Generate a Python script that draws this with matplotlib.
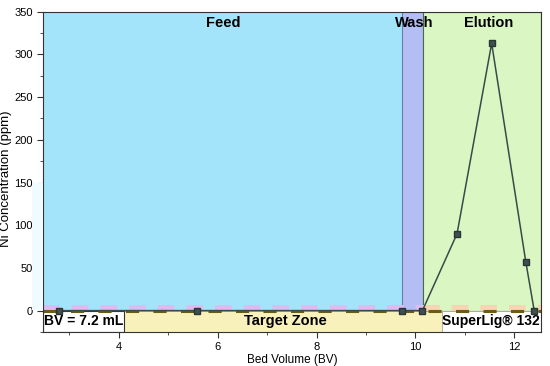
import matplotlib
matplotlib.use("Agg")
import matplotlib.pyplot as plt
from matplotlib.ticker import MultipleLocator
from matplotlib.patches import Rectangle

plt.rcParams['font.family'] = ['Liberation Sans', 'DejaVu Sans']

# Data
bed_volume = [2.79, 5.58, 9.73, 10.14, 10.84, 11.54, 12.23, 12.40]
ni_ppm = [0, 0, 0, 0, 90, 313, 57, 0]

# Zones (BV)
x_min, x_max = 2.48, 12.53
feed_end = 9.72
wash_end = 10.16
target_start, target_end = 4.1, 10.53
y_min, y_max = -25, 350

fig = plt.figure(figsize=(5.5, 3.66), dpi=100)
ax = fig.add_axes([0.079, 0.093, 0.904, 0.875])

# faint strip left of the axis
fig.patches.append(Rectangle((32 / 550, (366 - 310) / 366), 11 / 550, 127 / 366,
                             transform=fig.transFigure, facecolor='#effbfe', lw=0, zorder=0))

yfrac = (0 - y_min) / (y_max - y_min)
# background zones
ax.axvspan(x_min, feed_end, ymin=yfrac, ymax=1, color='#a3e4fb', lw=0, zorder=0)
ax.axvspan(feed_end, wash_end, ymin=yfrac, ymax=1, facecolor='#b5bdf5', edgecolor='#6a7fa0', lw=0.8, zorder=0)
ax.axvspan(wash_end, x_max, ymin=yfrac, ymax=1, facecolor='#daf6c3', edgecolor='#4a6a4a', lw=0.8, zorder=0)

# bottom band
ax.axvspan(target_start, target_end, ymin=0, ymax=yfrac, facecolor='#f8f1bb', edgecolor='#b5ae80', lw=0.6, zorder=0)
ax.axvspan(x_min, target_start, ymin=0, ymax=yfrac, facecolor='white', edgecolor='#333333', lw=0.8, zorder=0)
ax.axvspan(target_end, x_max, ymin=0, ymax=yfrac, facecolor='white', edgecolor='#aaaaaa', lw=0.6, zorder=0)

# faint dashed bands above zero
ax.plot([x_min, wash_end], [3.5, 3.5], color='#dcbcf0', lw=4.3, dashes=(2.8, 2.0), zorder=1, solid_capstyle='butt')
ax.plot([wash_end, x_max], [3.5, 3.5], color='#f6d4b4', lw=4.3, dashes=(2.8, 2.0), zorder=1, solid_capstyle='butt')

# dashed olive zero line
ax.axhline(0, color='#6b5c12', lw=2.2, dashes=(4.3, 4.7), zorder=2)

# main series
ax.plot(bed_volume, ni_ppm, color='#3a4a4a', lw=1.1, marker='s', ms=5,
        mfc='#3f5050', mec='#2a3535', zorder=3)

ax.set_xlim(x_min, x_max)
ax.set_ylim(y_min, y_max)
ax.set_yticks([0, 50, 100, 150, 200, 250, 300, 350])
ax.yaxis.set_minor_locator(MultipleLocator(25))
ax.set_xticks([4, 6, 8, 10, 12])
ax.xaxis.set_minor_locator(MultipleLocator(1))
ax.tick_params(axis='both', which='major', labelsize=8, length=4, width=0.8, direction='out', colors='#333333', labelcolor='black')
ax.tick_params(axis='both', which='minor', length=2.5, width=0.6, direction='out', colors='#333333')
for s in ax.spines.values():
    s.set_color('#333333')
    s.set_linewidth(0.8)

ax.set_xlabel('Bed Volume (BV)', fontsize=8.5, labelpad=1)
ax.set_ylabel('Ni Concentration (ppm)', fontsize=9.5, va='center')
ax.yaxis.set_label_coords(-0.075, 0.478)

# zone labels
ax.text(6.12, 337, 'Feed', fontsize=10.5, fontweight='bold', ha='center', va='center')
ax.text(9.97, 337, 'Wash', fontsize=10.5, fontweight='bold', ha='center', va='center')
ax.text(11.47, 337, 'Elution', fontsize=10.5, fontweight='bold', ha='center', va='center')

ax.text((x_min + target_start) / 2, -12.5, 'BV = 7.2 mL', fontsize=10, fontweight='bold', ha='center', va='center')
ax.text((target_start + target_end) / 2 + 0.05, -12.5, 'Target Zone', fontsize=10.5, fontweight='bold', ha='center', va='center')
ax.text((target_end + x_max) / 2, -12.5, 'SuperLig® 132', fontsize=10, fontweight='bold', ha='center', va='center')

fig.savefig('out.png', dpi=100)
